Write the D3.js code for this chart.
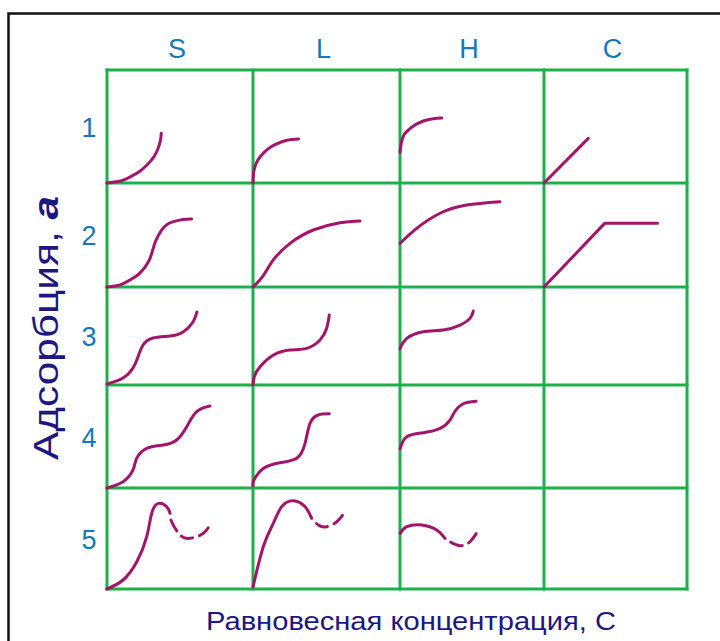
<!DOCTYPE html>
<html>
<head>
<meta charset="utf-8">
<script src="https://cdn.jsdelivr.net/npm/d3@7"></script>
<style>
  body { margin: 0; background: #fff; }
  svg { display: block; }
</style>
</head>
<body>
<div id="chart"></div>
<script>
// isotherm types (columns) and subgroups (rows)
var columns = ["S", "L", "H", "C"];
var rows = ["1", "2", "3", "4", "5"];

// curves: [x, y] as a fraction of the cell (y from bottom)
var S1 = [[0,0],[0.1,0.02],[0.16,0.055],[0.22,0.1],[0.272,0.157],[0.315,0.22],[0.345,0.29],[0.365,0.37],[0.372,0.44]];
var L1 = [[0,0],[0.005,0.1],[0.02,0.17],[0.05,0.235],[0.1,0.3],[0.15,0.34],[0.23,0.378],[0.31,0.39]];
var H1 = [[0,0.27],[0.01,0.36],[0.025,0.42],[0.046,0.454],[0.093,0.504],[0.162,0.549],[0.231,0.569],[0.29,0.575]];
var C1 = [[0,0],[0.31,0.395]];

var S2 = [[0,0],[0.09,0.02],[0.156,0.067],[0.215,0.12],[0.26,0.19],[0.29,0.26],[0.31,0.34],[0.33,0.43],[0.35,0.49],[0.374,0.548],[0.41,0.6],[0.454,0.628],[0.52,0.65],[0.58,0.654]];
var L2 = [[0,0],[0.07,0.11],[0.138,0.26],[0.252,0.42],[0.41,0.548],[0.592,0.618],[0.728,0.635]];
var H2 = [[0,0.42],[0.116,0.564],[0.278,0.709],[0.463,0.788],[0.694,0.82]];
var C2 = [[0,0],[0.424,0.612],[0.794,0.612]];

var S3 = [[0,0.01],[0.11,0.071],[0.178,0.173],[0.212,0.286],[0.247,0.408],[0.315,0.48],[0.432,0.5],[0.521,0.541],[0.589,0.643],[0.616,0.745]];
var L3 = [[0,0],[0.01,0.09],[0.048,0.187],[0.139,0.306],[0.252,0.357],[0.365,0.374],[0.456,0.459],[0.501,0.579],[0.519,0.714]];
var H3 = [[0,0.37],[0.047,0.476],[0.162,0.544],[0.3,0.561],[0.417,0.612],[0.486,0.68],[0.509,0.755]];

var S4 = [[0,0],[0.11,0.061],[0.178,0.175],[0.203,0.288],[0.272,0.385],[0.386,0.417],[0.477,0.466],[0.546,0.595],[0.614,0.741],[0.705,0.796]];
var L4 = [[0,0.02],[0.007,0.078],[0.07,0.19],[0.184,0.246],[0.297,0.288],[0.354,0.434],[0.388,0.628],[0.444,0.709],[0.519,0.72]];
var H4 = [[0,0.38],[0.047,0.498],[0.162,0.537],[0.278,0.579],[0.347,0.66],[0.382,0.745],[0.44,0.818],[0.528,0.842]];

var S5 = [[0,0],[0.11,0.089],[0.204,0.27],[0.272,0.518],[0.306,0.749],[0.352,0.848],[0.409,0.815],[0.432,0.749]];
var S5dash = [[0.432,0.749],[0.443,0.666],[0.5,0.535],[0.568,0.502],[0.659,0.551],[0.716,0.666]];
var L5 = [[0,0.02],[0.07,0.419],[0.138,0.65],[0.195,0.815],[0.274,0.874],[0.354,0.815],[0.399,0.7]];
var L5dash = [[0.399,0.7],[0.444,0.634],[0.502,0.617],[0.57,0.666],[0.611,0.733]];
var H5 = [[0,0.551],[0.047,0.617],[0.151,0.634],[0.255,0.584],[0.313,0.502]];
var H5dash = [[0.313,0.502],[0.347,0.468],[0.417,0.429],[0.486,0.468],[0.537,0.567]];

// which curve sits in which cell
var curves = [
  {col: "S", row: "1", pts: S1}, {col: "L", row: "1", pts: L1}, {col: "H", row: "1", pts: H1}, {col: "C", row: "1", pts: C1, straight: true},
  {col: "S", row: "2", pts: S2}, {col: "L", row: "2", pts: L2}, {col: "H", row: "2", pts: H2}, {col: "C", row: "2", pts: C2, straight: true},
  {col: "S", row: "3", pts: S3}, {col: "L", row: "3", pts: L3}, {col: "H", row: "3", pts: H3},
  {col: "S", row: "4", pts: S4}, {col: "L", row: "4", pts: L4}, {col: "H", row: "4", pts: H4},
  {col: "S", row: "5", pts: S5}, {col: "L", row: "5", pts: L5}, {col: "H", row: "5", pts: H5},
  {col: "S", row: "5", pts: S5dash, dashed: true}, {col: "L", row: "5", pts: L5dash, dashed: true}, {col: "H", row: "5", pts: H5dash, dashed: true}
];

function init(){
    var w = 720, h = 641;
    var green = "#1eb04a";
    var curveColor = "#a3146a";
    var labelColor = "#1478be";
    var titleColor = "#1d1780";

    var svg = d3.select("#chart").append("svg")
        .attr("width", w)
        .attr("height", h);

    // black frame, only the top and left edges show
    svg.append("rect")
        .attr("x", 8.5).attr("y", 13.5)
        .attr("width", 900).attr("height", 900)
        .attr("fill", "none")
        .attr("stroke", "#111")
        .attr("stroke-width", 2.5);

    // grid edges (the cells are not quite equal)
    var xEdge = d3.scaleLinear().domain([0, 1, 2, 3, 4]).range([107, 253, 400, 544, 687]);
    var yEdge = d3.scaleLinear().domain([0, 1, 2, 3, 4, 5]).range([70, 183, 287, 385, 488, 589]);

    var grid = svg.append("g")
        .attr("stroke", green)
        .attr("stroke-width", 3)
        .attr("stroke-linecap", "square");

    grid.selectAll("line.v")
        .data(d3.range(columns.length + 1))
        .enter().append("line")
        .attr("class", "v")
        .attr("x1", function(d) { return xEdge(d); })
        .attr("x2", function(d) { return xEdge(d); })
        .attr("y1", yEdge(0))
        .attr("y2", yEdge(rows.length));

    grid.selectAll("line.h")
        .data(d3.range(rows.length + 1))
        .enter().append("line")
        .attr("class", "h")
        .attr("y1", function(d) { return yEdge(d); })
        .attr("y2", function(d) { return yEdge(d); })
        .attr("x1", xEdge(0))
        .attr("x2", xEdge(columns.length));

    // column headers
    svg.selectAll("text.col")
        .data(columns)
        .enter().append("text")
        .attr("class", "col")
        .attr("x", function(d, i) { return (xEdge(i) + xEdge(i + 1)) / 2 - 3; })
        .attr("y", 58)
        .attr("text-anchor", "middle")
        .attr("font-family", "Liberation Sans, Arial, sans-serif")
        .attr("font-size", 27)
        .attr("fill", labelColor)
        .text(function(d) { return d; });

    // row numbers
    svg.selectAll("text.row")
        .data(rows)
        .enter().append("text")
        .attr("class", "row")
        .attr("x", 89)
        .attr("y", function(d, i) { return (yEdge(i) + yEdge(i + 1)) / 2 + 10; })
        .attr("text-anchor", "middle")
        .attr("font-family", "Liberation Sans, Arial, sans-serif")
        .attr("font-size", 27)
        .attr("fill", labelColor)
        .text(function(d) { return d; });

    // curves, one scale pair per cell
    curves.forEach(function(c) {
        var ci = columns.indexOf(c.col), ri = rows.indexOf(c.row);
        var x = d3.scaleLinear().domain([0, 1]).range([xEdge(ci), xEdge(ci + 1)]);
        var y = d3.scaleLinear().domain([0, 1]).range([yEdge(ri + 1), yEdge(ri)]);
        var line = d3.line()
            .x(function(d) { return x(d[0]); })
            .y(function(d) { return y(d[1]); })
            .curve(c.straight ? d3.curveLinear : d3.curveNatural);
        var p = svg.append("path")
            .datum(c.pts)
            .attr("d", line)
            .attr("fill", "none")
            .attr("stroke", curveColor)
            .attr("stroke-width", 3)
            .attr("stroke-linecap", "round")
            .attr("stroke-linejoin", "round");
        if (c.dashed) {
            p.attr("stroke-dasharray", "12 7").attr("stroke-dashoffset", 12);
        }
    });

    // axis titles
    svg.append("text")
        .attr("x", 411)
        .attr("y", 630)
        .attr("text-anchor", "middle")
        .attr("font-family", "Liberation Sans, Arial, sans-serif")
        .attr("font-size", 26)
        .attr("fill", titleColor)
        .attr("textLength", 410)
        .attr("lengthAdjust", "spacingAndGlyphs")
        .text("Равновесная концентрация, С");

    var yt = svg.append("text")
        .attr("transform", "translate(58,328) rotate(-90)")
        .attr("text-anchor", "middle")
        .attr("font-family", "Liberation Sans, Arial, sans-serif")
        .attr("font-size", 35)
        .attr("fill", titleColor)
        .attr("textLength", 264)
        .attr("lengthAdjust", "spacingAndGlyphs");
    yt.append("tspan").text("Адсорбция, ");
    yt.append("tspan").attr("font-style", "italic").attr("font-weight", "bold").text("a");
}
window.onload = init;
</script>
</body>
</html>
